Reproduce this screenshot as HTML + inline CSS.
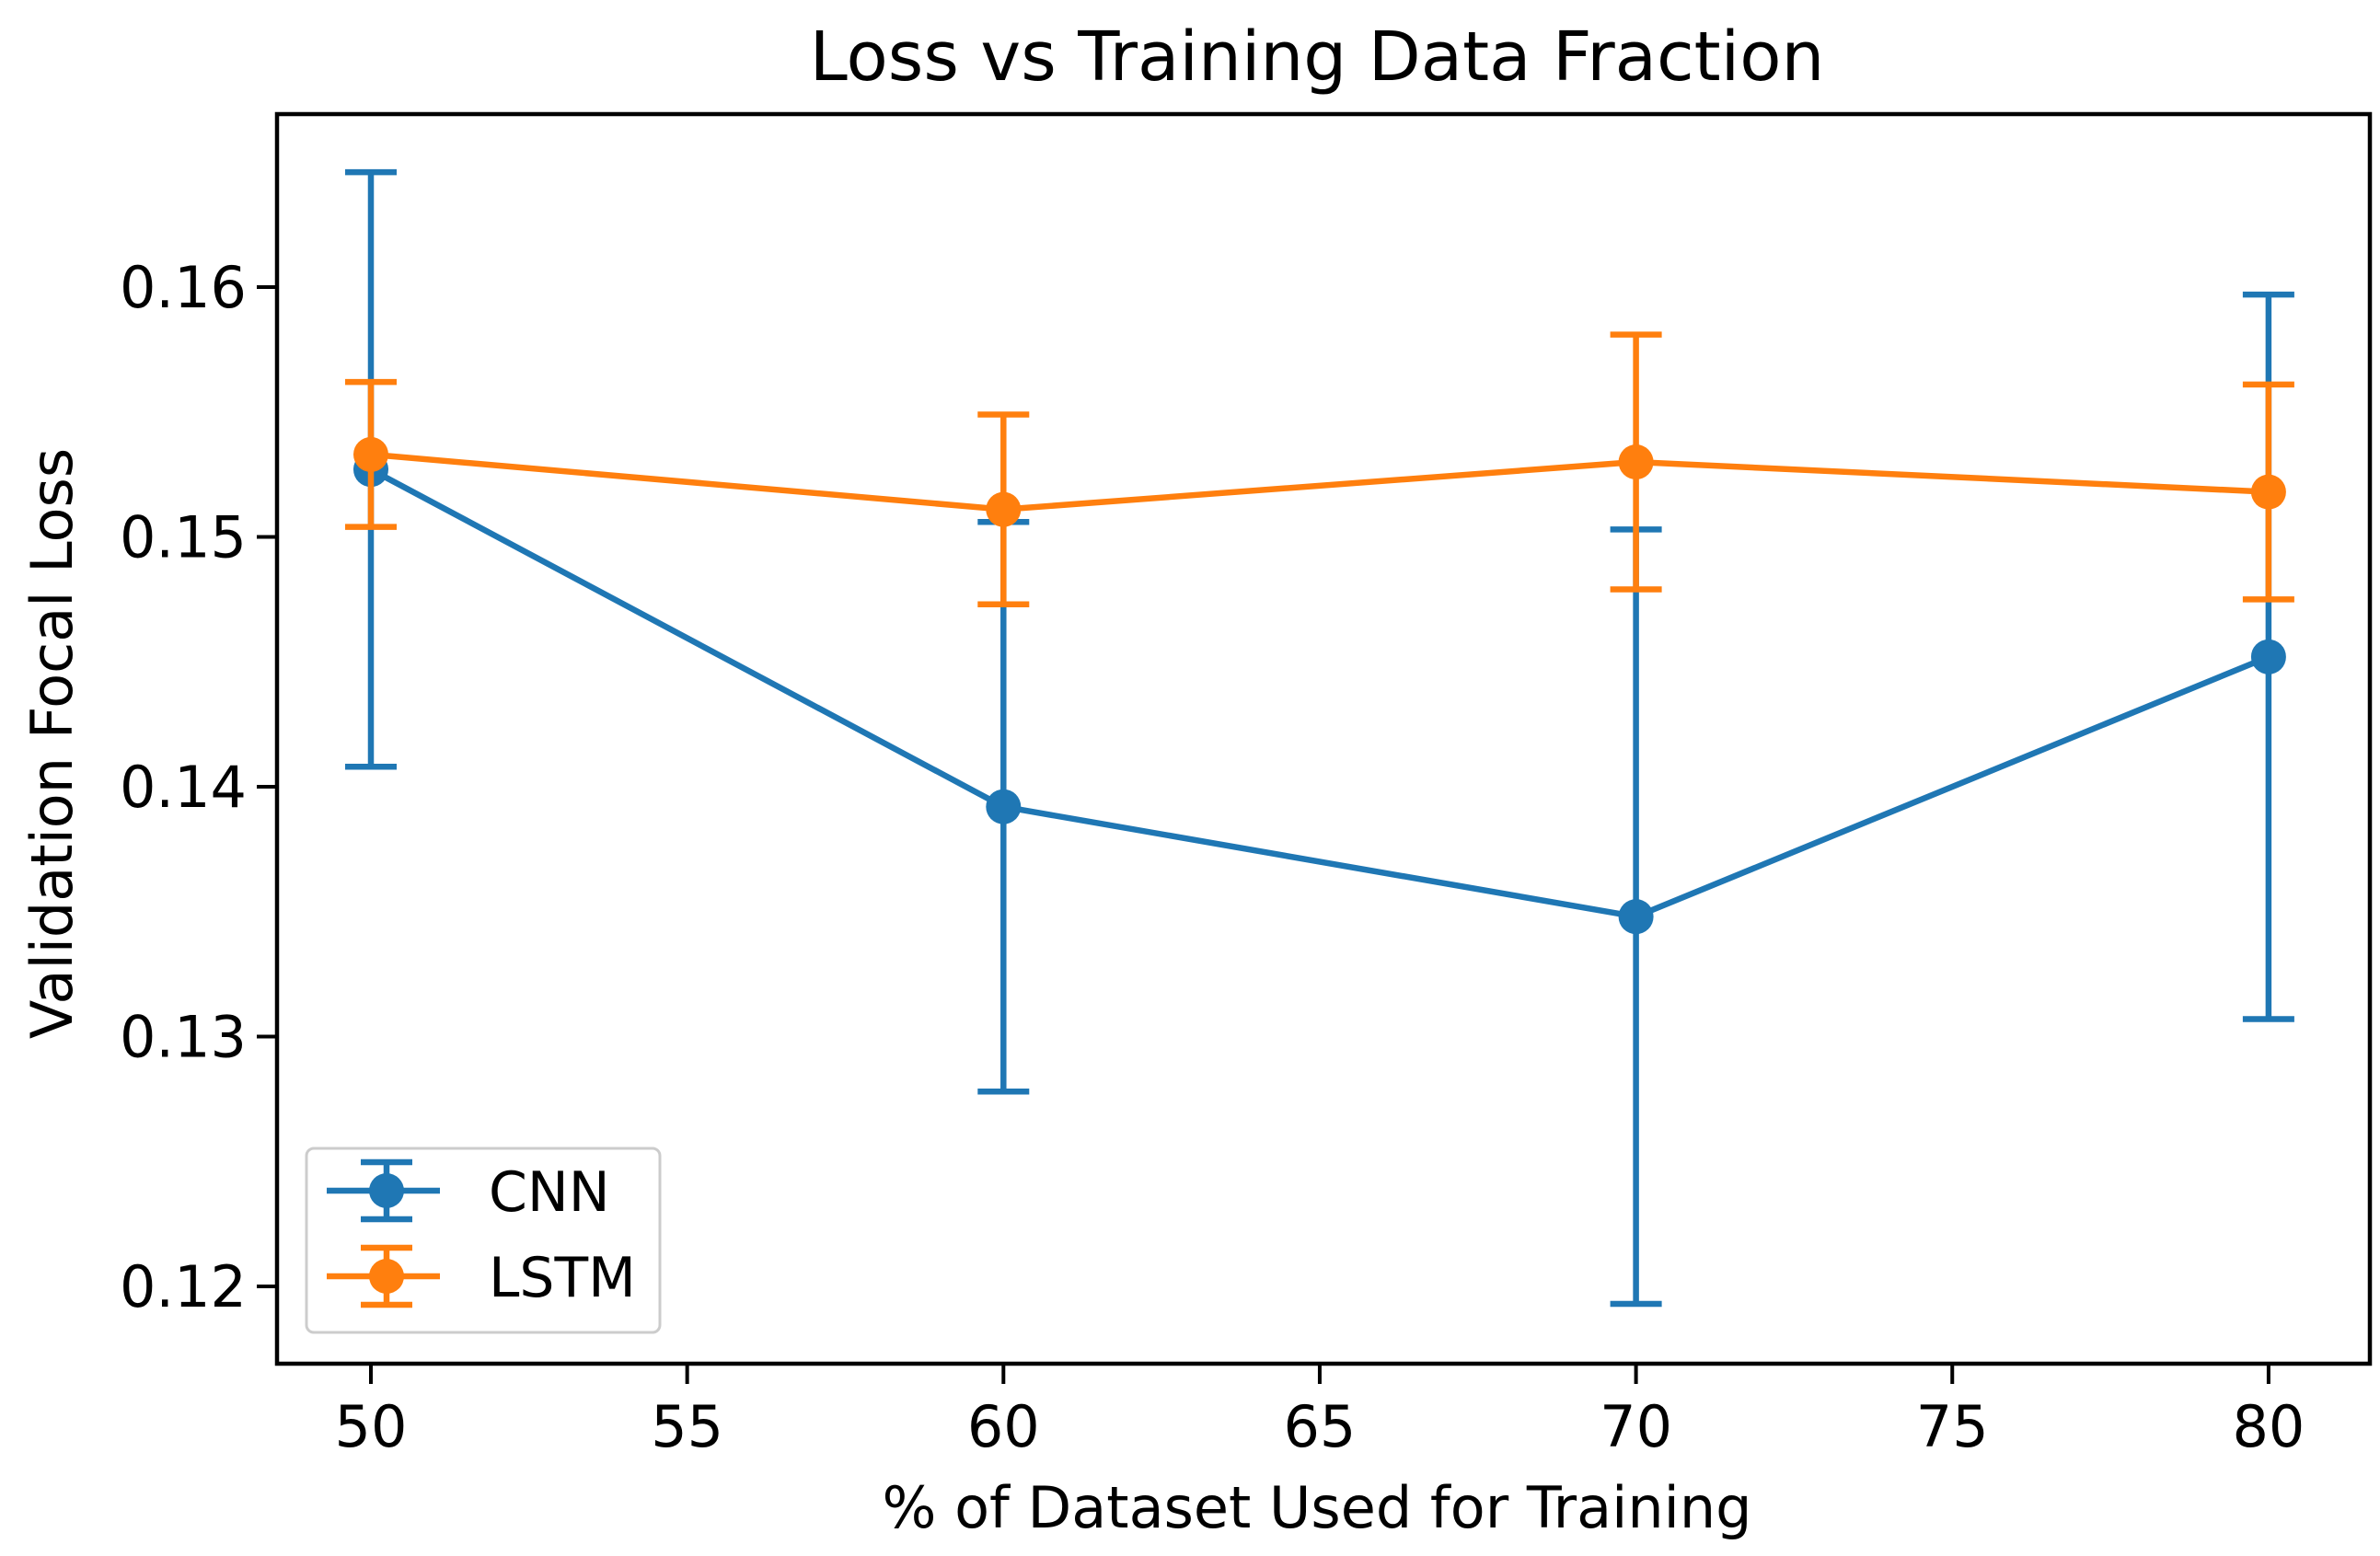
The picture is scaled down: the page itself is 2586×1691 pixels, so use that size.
<!DOCTYPE html>
<html><head><meta charset="utf-8"><style>
html,body{margin:0;padding:0;background:#fff;}
svg{display:block;font-family:"DejaVu Sans","Liberation Sans",sans-serif;}
</style></head><body>
<svg id="chart" width="2586" height="1691" viewBox="0 0 2586 1691" xmlns="http://www.w3.org/2000/svg">
<rect width="2586" height="1691" fill="#fff"/>
<text x="1431" y="87" font-size="74" text-anchor="middle" fill="#000">Loss vs Training Data Fraction</text>
<text x="1431" y="1660" font-size="62" text-anchor="middle" fill="#000">% of Dataset Used for Training</text>
<text x="0" y="0" font-size="62" text-anchor="middle" fill="#000" transform="translate(78,808) rotate(-90)">Validation Focal Loss</text>
<g id="ticks"></g>
<g id="series"></g>
<rect x="301" y="124" width="2274" height="1358" fill="none" stroke="#000" stroke-width="4.5"/>
<g id="legend">
<rect x="333" y="1248" width="384" height="200" rx="8" fill="#fff" fill-opacity="0.8" stroke="#ccc" stroke-width="3"/>
</g>
</svg>
<script>
const xs = [50, 60, 70, 80];
const cnnMean = [0.1527, 0.1392, 0.1348, 0.1452];
const cnnErr = [0.0119, 0.0114, 0.0155, 0.0145];
const lstmMean = [0.1533, 0.1511, 0.1530, 0.1518];
const lstmErr = [0.0029, 0.0038, 0.0051, 0.0043];
const xTicks = [50, 55, 60, 65, 70, 75, 80];
const yTicks = [0.12, 0.13, 0.14, 0.15, 0.16];
const yTickLabels = ["0.12", "0.13", "0.14", "0.15", "0.16"];

const NS = "http://www.w3.org/2000/svg";
function X(v){ return 403 + (v - 50) * 68.73; }
function Y(v){ return 1398 - (v - 0.12) * 27150; }
function mk(tag, attrs, parent){
  const e = document.createElementNS(NS, tag);
  for (const k in attrs) e.setAttribute(k, attrs[k]);
  parent.appendChild(e);
  return e;
}
const tg = document.getElementById('ticks');
xTicks.forEach(t => {
  const l = mk('line', {x1: X(t), x2: X(t), y1: 1482, y2: 1504, stroke: '#000', 'stroke-width': 4}, tg);
  
  
  const tx = mk('text', {x: X(t), y: 1572, 'font-size': 62, 'text-anchor': 'middle', fill: '#000'}, tg);
  tx.textContent = t;
  
  
});
yTicks.forEach((t, i) => {
  const l = mk('line', {x1: 279, x2: 301, y1: Y(t), y2: Y(t), stroke: '#000', 'stroke-width': 4}, tg);
  
  
  const tx = mk('text', {x: 268, y: Y(t) + 22, 'font-size': 62, 'text-anchor': 'end', fill: '#000'}, tg);
  tx.textContent = yTickLabels[i];
  
  
});
const sg = document.getElementById('series');
function drawSeries(name, means, errs, color){
  const g = mk('g', {}, sg);
  
  
  const pts = xs.map((x, i) => X(x) + ',' + Y(means[i])).join(' ');
  const pl = mk('polyline', {points: pts, fill: 'none', stroke: color, 'stroke-width': 6.5, 'stroke-linejoin': 'round'}, g);
  
  
  xs.forEach((x, i) => {
    const cx = X(x), top = Y(means[i] + errs[i]), bot = Y(means[i] - errs[i]);
    const eb = mk('path', {d: 'M' + cx + ' ' + top + 'V' + bot + 'M' + (cx - 28) + ' ' + top + 'H' + (cx + 28) + 'M' + (cx - 28) + ' ' + bot + 'H' + (cx + 28), stroke: color, 'stroke-width': 6.5, fill: 'none'}, g);
    
    
    const c = mk('circle', {cx: cx, cy: Y(means[i]), r: 19, fill: color}, g);
    
    
  });
}
drawSeries('cnn', cnnMean, cnnErr, '#1f77b4');
drawSeries('lstm', lstmMean, lstmErr, '#ff7f0e');

const lg = document.getElementById('legend');
[['CNN', '#1f77b4', 1294], ['LSTM', '#ff7f0e', 1387]].forEach(([lab, color, y]) => {
  const g = mk('g', {}, lg);
  
  
  mk('path', {d: 'M355 ' + y + 'H478M420 ' + (y - 31) + 'V' + (y + 31) + 'M392 ' + (y - 31) + 'H448M392 ' + (y + 31) + 'H448', stroke: color, 'stroke-width': 6.5, fill: 'none'}, g);
  mk('circle', {cx: 420, cy: y, r: 19, fill: color}, g);
  const t = mk('text', {x: 531, y: y + 22, 'font-size': 60, fill: '#000'}, g);
  t.textContent = lab;
});
</script>
</body></html>
